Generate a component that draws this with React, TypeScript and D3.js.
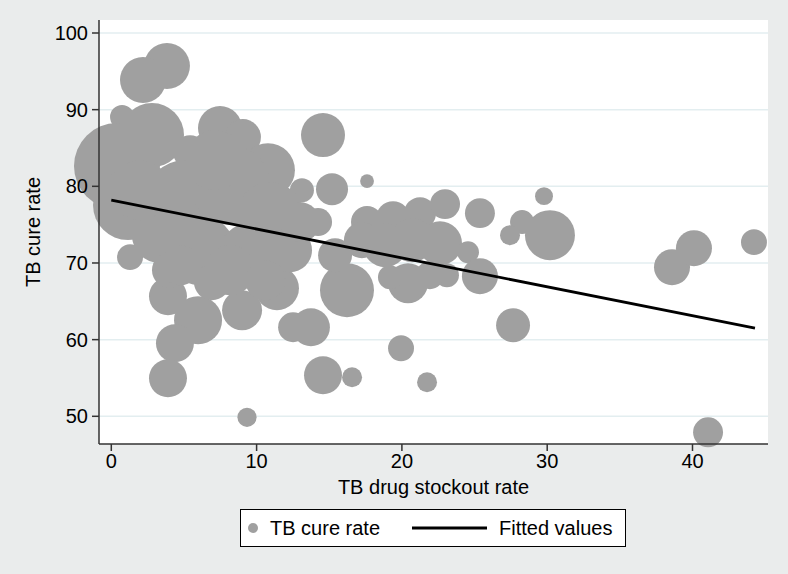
import React from "react";
import * as d3 from "d3";

// Stockout rate (x), cure rate (y), and bubble weight (size)
const stockoutRate = [
  3.83, 2.18, 0.74, 0.39, 1.15, 2.80, 5.42, 7.48, 9.06, 10.78,
  13.12, 14.23, 14.57, 15.19, 17.60, 1.29, 3.90, 5.97, 4.38, 3.90,
  9.34, 9.00, 11.40, 12.51, 13.74, 14.57, 16.57, 16.22, 15.40, 19.94,
  21.73, 17.60, 19.39, 21.25, 22.97, 25.37, 17.25, 18.84, 20.70, 22.62,
  24.55, 25.37, 23.10, 21.93, 20.42, 19.18, 28.27, 27.44, 30.19, 29.78,
  27.65, 38.59, 40.10, 44.23, 41.07, 5.07, 8.17, 10.92, 6.10, 9.55,
  3.35, 12.30, 7.14, 12.99, 6.93, 4.04, 8.17, 4.74, 10.59, 1.98,
];
const cureRate = [
  95.69, 93.86, 89.03, 82.64, 77.55, 86.68, 84.46, 87.60, 86.42, 82.11,
  79.50, 75.33, 86.68, 79.63, 80.68, 70.76, 65.67, 62.53, 59.53, 54.96,
  49.87, 63.84, 66.71, 61.62, 61.62, 55.35, 55.09, 66.45, 71.02, 58.88,
  54.44, 75.33, 75.85, 76.50, 77.68, 76.50, 72.98, 72.32, 72.98, 72.58,
  71.41, 68.28, 68.41, 68.41, 67.36, 68.15, 75.33, 73.63, 73.63, 78.72,
  61.88, 69.45, 71.93, 72.72, 47.91, 78.20, 80.16, 76.24, 71.67, 71.02,
  73.63, 71.67, 83.42, 75.33, 67.49, 69.06, 69.06, 69.71, 67.75, 79.50,
];
const weight = [
  132, 132, 36, 462, 306, 256, 72, 121, 81, 182,
  36, 49, 121, 64, 12, 42, 90, 144, 90, 90,
  23, 100, 121, 56, 90, 90, 25, 182, 72, 42,
  25, 64, 72, 64, 56, 56, 81, 121, 121, 121,
  30, 81, 36, 49, 100, 36, 36, 25, 156, 20,
  72, 81, 81, 42, 56, 400, 400, 272, 306, 256,
  196, 121, 225, 100, 81, 81, 156, 100, 100, 225,
];

const fitIntercept = 78.2;
const fitSlope = -0.377;
const fitRange = [0, 44.3];

const xTicks = [0, 10, 20, 30, 40];
const yTicks = [50, 60, 70, 80, 90, 100];

const legendLabels = ["TB cure rate", "Fitted values"];
const xTitle = "TB drug stockout rate";
const yTitle = "TB cure rate";

export default function App() {
  const W = 788, H = 574;
  const plot = { left: 99, right: 768, top: 20, bottom: 444 };
  const x = d3.scaleLinear().domain([0, 40]).range([111.3, 692.5]);
  const y = d3.scaleLinear().domain([50, 100]).range([416.3, 33]);
  const r = d3.scaleSqrt().domain([0, 100]).range([0, 20]);
  const font = "'Liberation Sans', Arial, Helvetica, sans-serif";
  const fs = 20;

  const line = d3.line<number>().x((d) => x(d)).y((d) => y(fitIntercept + fitSlope * d));
  const pts = stockoutRate.map((v, i) => ({ x: v, y: cureRate[i], w: weight[i] }));

  return (
    <svg width={W} height={H} style={{ position: "absolute", left: 0, top: 0 }} fontFamily={font}>
      <rect x={0} y={0} width={W} height={H} fill="#eaecec" />
      <rect x={plot.left} y={plot.top} width={plot.right - plot.left} height={plot.bottom - plot.top} fill="#ffffff" />
      {yTicks.map((t) => (
        <line key={"g" + t} x1={plot.left} x2={plot.right} y1={y(t)} y2={y(t)} stroke="#e3eef0" strokeWidth={1.5} />
      ))}
      {pts.map((p, i) => (
        <circle key={i} cx={x(p.x)} cy={y(p.y)} r={r(p.w)} fill="#a0a0a0" />
      ))}
      <path d={line(fitRange) || ""} stroke="#000" strokeWidth={2.8} fill="none" />
      {/* axes */}
      <line x1={plot.left} x2={plot.left} y1={plot.top} y2={plot.bottom} stroke="#333" strokeWidth={1.5} />
      <line x1={plot.left} x2={plot.right} y1={plot.bottom} y2={plot.bottom} stroke="#333" strokeWidth={1.5} />
      {yTicks.map((t) => (
        <g key={"y" + t}>
          <line x1={plot.left - 7} x2={plot.left} y1={y(t)} y2={y(t)} stroke="#333" strokeWidth={1.5} />
          <text x={plot.left - 11} y={y(t)} dy="0.35em" textAnchor="end" fontSize={fs} fill="#000">{t}</text>
        </g>
      ))}
      {xTicks.map((t) => (
        <g key={"x" + t}>
          <line x1={x(t)} x2={x(t)} y1={plot.bottom} y2={plot.bottom + 7} stroke="#333" strokeWidth={1.5} />
          <text x={x(t)} y={468} textAnchor="middle" fontSize={fs} fill="#000">{t}</text>
        </g>
      ))}
      <text x={(plot.left + plot.right) / 2} y={494} textAnchor="middle" fontSize={fs} fill="#000">{xTitle}</text>
      <text transform={`translate(40, ${(plot.top + plot.bottom) / 2}) rotate(-90)`} textAnchor="middle" fontSize={fs} fill="#000">{yTitle}</text>
      {/* legend */}
      <rect x={240.5} y={509.5} width={385} height={37} fill="#fff" stroke="#000" strokeWidth={1} />
      <circle cx={253} cy={528} r={5} fill="#a0a0a0" />
      <text x={270} y={528} dy="0.35em" fontSize={fs} fill="#000">{legendLabels[0]}</text>
      <line x1={412} x2={487} y1={528} y2={528} stroke="#000" strokeWidth={2.8} />
      <text x={499} y={528} dy="0.35em" fontSize={fs} fill="#000">{legendLabels[1]}</text>
    </svg>
  );
}
